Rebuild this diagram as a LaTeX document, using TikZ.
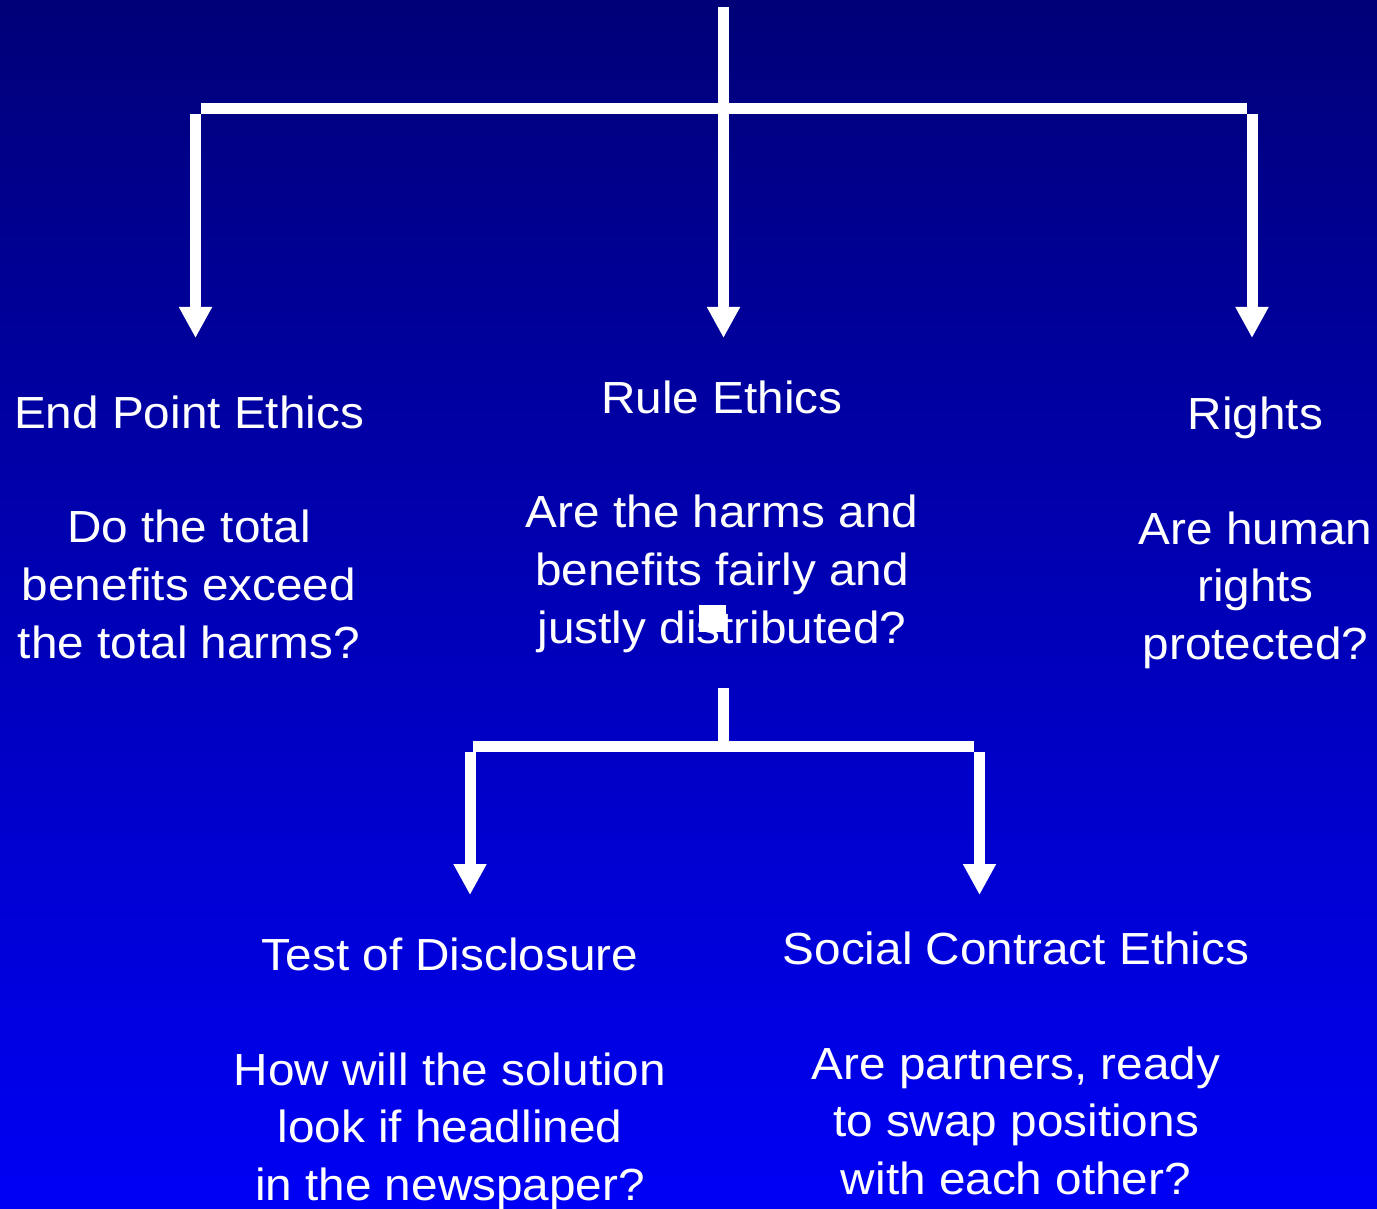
\documentclass[tikz,border=0pt]{standalone}
\usepackage{fontspec}
\setmainfont{Liberation Sans}[FakeStretch=1.06]
\usetikzlibrary{arrows.meta}
\definecolor{bgtop}{RGB}{0,0,120}
\definecolor{bgbot}{RGB}{0,0,245}
\newcommand{\blk}[1]{\begin{tabular}[t]{@{}c@{}}#1\end{tabular}}
\begin{document}
\begin{tikzpicture}[x=1pt,y=-1pt,
  conn/.style={draw=white,line width=11pt},
  arr/.style={conn,-{Triangle[width=31pt,length=31pt]}},
  lbl/.style={text=white,inner sep=0pt,anchor=base,font=\fontsize{45}{57.5}\selectfont}]
\useasboundingbox (0,0) rectangle (1377,1209);
\shade[top color=bgtop,bottom color=bgbot] (0,0) rectangle (1377,1209);
% upper tree
\coordinate (root) at (723.5,7);
\coordinate (barL) at (200.6,109);
\coordinate (barR) at (1246.7,109);
\coordinate (dropL) at (195.5,114.3);
\coordinate (dropR) at (1252,114.3);
\coordinate (tipL) at (195.5,338);
\coordinate (tipM) at (723.5,338);
\coordinate (tipR) at (1252,338);
\draw[conn] (barL) -- (barR);
\draw[arr] (root) -- (tipM);
\draw[arr] (dropL) -- (tipL);
\draw[arr] (dropR) -- (tipR);
% lower tree
\coordinate (sub) at (723.3,687.7);
\coordinate (subJ) at (723.3,746.5);
\coordinate (sbarL) at (472.9,746.5);
\coordinate (sbarR) at (974,746.5);
\coordinate (sdropL) at (470,752);
\coordinate (sdropR) at (979.5,752);
\coordinate (stipL) at (470,895);
\coordinate (stipR) at (979.5,895);
\draw[conn] (sub) -- (subJ);
\draw[conn] (sbarL) -- (sbarR);
\draw[arr] (sdropL) -- (stipL);
\draw[arr] (sdropR) -- (stipR);
% texts
\node[lbl] (endp) at (189,428) {\blk{End Point Ethics\\ \\ Do the total\\ benefits exceed\\ the total harms?}};
\node[lbl] (rule) at (722,413) {\blk{Rule Ethics\\ \\ Are the harms and\\ benefits fairly and\\ justly distributed?}};
\node[lbl] (rights) at (1255.5,429) {\blk{Rights\\ \\ Are human\\ rights\\ protected?}};
\node[lbl] (test) at (450,970) {\blk{Test of Disclosure\\ \\ How will the solution\\ look if headlined\\ in the newspaper?}};
\node[lbl] (social) at (1016,964) {\blk{Social Contract Ethics\\ \\ Are partners, ready\\ to swap positions\\ with each other?}};
\fill[white] (699,605) rectangle (726,632);
\end{tikzpicture}
\end{document}
